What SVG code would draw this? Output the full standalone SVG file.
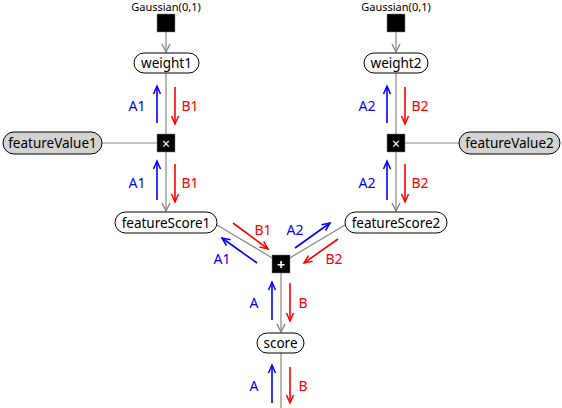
<svg xmlns="http://www.w3.org/2000/svg" width="562" height="408" viewBox="0 0 562 408">
<style>
text{font-family:"Noto Sans","DejaVu Sans",sans-serif;text-anchor:middle;dominant-baseline:central}
.lbl{font-size:13.5px}
.small{font-size:11px}
.pill{fill:#fff;stroke:#000;stroke-width:1}
.obs{fill:#d3d3d3;stroke:#000;stroke-width:1}
.fac{fill:#000;stroke:#808080;stroke-width:0.5}
.edge{stroke:#888;stroke-width:1.2;fill:none}
.a{stroke:#0000ff;stroke-width:1.6;fill:none;marker-end:url(#mb)}
.b{stroke:#ff0000;stroke-width:1.6;fill:none;marker-end:url(#mr)}
.ta{fill:#0000ff;font-size:14px}
.tb{fill:#ff0000;font-size:14px}
.sym{fill:#fff;font-size:14px}
</style>
<defs>
<marker id="mg" markerUnits="userSpaceOnUse" markerWidth="12" markerHeight="12" refX="9" refY="5" orient="auto" overflow="visible"><path d="M1,1 L9,5 L1,9" fill="none" stroke="#888" stroke-width="1.4"/></marker>
<marker id="mb" markerUnits="userSpaceOnUse" markerWidth="12" markerHeight="12" refX="9" refY="5" orient="auto" overflow="visible"><path d="M1,1.5 L9,5 L1,8.5" fill="none" stroke="#0000ff" stroke-width="1.5"/></marker>
<marker id="mr" markerUnits="userSpaceOnUse" markerWidth="12" markerHeight="12" refX="9" refY="5" orient="auto" overflow="visible"><path d="M1,1.5 L9,5 L1,8.5" fill="none" stroke="#ff0000" stroke-width="1.5"/></marker>
</defs>
<g id="connectors">
<line class="edge" x1="166" y1="32" x2="166" y2="52" marker-end="url(#mg)"/>
<line class="edge" x1="166" y1="73" x2="166" y2="134"/>
<line class="edge" x1="102" y1="143" x2="157" y2="143"/>
<line class="edge" x1="166" y1="152" x2="166" y2="211" marker-end="url(#mg)"/>
<line class="edge" x1="396" y1="32" x2="396" y2="52" marker-end="url(#mg)"/>
<line class="edge" x1="396" y1="73" x2="396" y2="134"/>
<line class="edge" x1="459" y1="143" x2="405" y2="143"/>
<line class="edge" x1="396" y1="152" x2="396" y2="211" marker-end="url(#mg)"/>
<line class="edge" x1="217" y1="225" x2="274" y2="259"/>
<line class="edge" x1="345" y1="225" x2="288" y2="259"/>
<line class="edge" x1="281" y1="273" x2="281" y2="332" marker-end="url(#mg)"/>
<line class="edge" x1="281" y1="353" x2="281" y2="408"/>
<line class="a" x1="157" y1="123" x2="157" y2="86"/>
<line class="b" x1="175" y1="87" x2="175" y2="124"/>
<line class="a" x1="157" y1="200" x2="157" y2="161"/>
<line class="b" x1="175" y1="164" x2="175" y2="202"/>
<line class="a" x1="387" y1="123" x2="387" y2="86"/>
<line class="b" x1="405" y1="87" x2="405" y2="124"/>
<line class="a" x1="387" y1="200" x2="387" y2="161"/>
<line class="b" x1="405" y1="164" x2="405" y2="202"/>
<line class="b" x1="233" y1="223" x2="268" y2="249"/>
<line class="a" x1="257" y1="263" x2="222" y2="238"/>
<line class="a" x1="295" y1="248" x2="330" y2="223"/>
<line class="b" x1="338" y1="239" x2="304" y2="263"/>
<line class="a" x1="272" y1="320" x2="272" y2="282"/>
<line class="b" x1="290" y1="283" x2="290" y2="321"/>
<line class="a" x1="272" y1="403" x2="272" y2="365"/>
<line class="b" x1="290" y1="367" x2="290" y2="403"/>
<text class="ta" x="137" y="105">A1</text>
<text class="tb" x="190" y="105">B1</text>
<text class="ta" x="137" y="182">A1</text>
<text class="tb" x="190" y="182">B1</text>
<text class="ta" x="367" y="105">A2</text>
<text class="tb" x="420" y="105">B2</text>
<text class="ta" x="367" y="182">A2</text>
<text class="tb" x="420" y="182">B2</text>
<text class="tb" x="263" y="229">B1</text>
<text class="ta" x="295" y="229">A2</text>
<text class="ta" x="222" y="258">A1</text>
<text class="tb" x="334" y="258">B2</text>
<text class="ta" x="254" y="302">A</text>
<text class="tb" x="303" y="302">B</text>
<text class="ta" x="254" y="385">A</text>
<text class="tb" x="303" y="385">B</text>
</g>
<g id="gauss1"><rect class="fac" x="157" y="14" width="18" height="18"/><text class="small" x="166" y="6">Gaussian(0,1)</text></g>
<g id="gauss2"><rect class="fac" x="387" y="14" width="18" height="18"/><text class="small" x="396" y="6">Gaussian(0,1)</text></g>
<g id="weight1"><rect class="pill" x="134" y="53" width="65" height="20" rx="10"/><text class="lbl" x="166.5" y="63">weight1</text></g>
<g id="weight2"><rect class="pill" x="364" y="53" width="64" height="20" rx="10"/><text class="lbl" x="396" y="63">weight2</text></g>
<g id="times1"><rect class="fac" x="157" y="134" width="18" height="18"/><text class="sym" x="166" y="143">×</text></g>
<g id="times2"><rect class="fac" x="387" y="134" width="18" height="18"/><text class="sym" x="396" y="143">×</text></g>
<g id="featureValue1"><rect class="obs" x="3" y="132" width="99" height="22" rx="11"/><text class="lbl" x="52.5" y="143">featureValue1</text></g>
<g id="featureValue2"><rect class="obs" x="459" y="132" width="101" height="22" rx="11"/><text class="lbl" x="509.5" y="143">featureValue2</text></g>
<g id="featureScore1"><rect class="pill" x="115" y="212" width="102" height="21" rx="10.5"/><text class="lbl" x="166" y="222.5">featureScore1</text></g>
<g id="featureScore2"><rect class="pill" x="345" y="212" width="102" height="21" rx="10.5"/><text class="lbl" x="396" y="222.5">featureScore2</text></g>
<g id="plus"><rect class="fac" x="272" y="255" width="18" height="18"/><text class="sym" x="281" y="264" style="font-weight:bold">+</text></g>
<g id="score"><rect class="pill" x="257" y="333" width="47" height="20" rx="10"/><text class="lbl" x="280.5" y="343">score</text></g>
</svg>
